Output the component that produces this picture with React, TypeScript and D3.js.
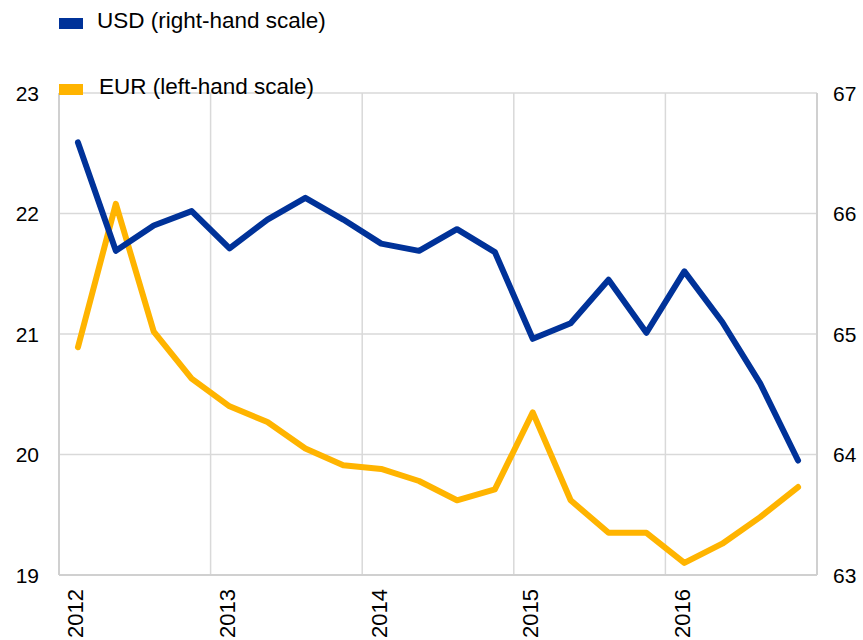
import React from "react";
import * as d3 from "d3";

const years = ["2012", "2013", "2014", "2015", "2016"];
const quarters = years.flatMap((y) => ["Q1", "Q2", "Q3", "Q4"].map((q) => `${y}${q}`));

const usdValues = [
  66.59, 65.69, 65.9, 66.02, 65.71, 65.95, 66.13, 65.95, 65.75, 65.69,
  65.87, 65.68, 64.96, 65.09, 65.45, 65.01, 65.52, 65.1, 64.59, 63.95,
];
const eurValues = [
  20.89, 22.08, 21.02, 20.63, 20.4, 20.27, 20.05, 19.91, 19.88, 19.78,
  19.62, 19.71, 20.35, 19.62, 19.35, 19.35, 19.1, 19.26, 19.48, 19.73,
];
const leftTicks = [19, 20, 21, 22, 23];
const rightTicks = [63, 64, 65, 66, 67];

const W = 863;
const H = 640;
const left = 59;
const right = 817;
const top = 93;
const bottom = 575;
const FONT = "'Liberation Sans', Arial, sans-serif";
const BLUE = "#003299";
const YELLOW = "#FFB400";
const GRID = "#d9d9d9";

export default function App() {
  const x = d3.scaleBand<string>().domain(quarters).range([left, right]).padding(0);
  const yL = d3.scaleLinear().domain([19, 23]).range([bottom, top]);
  const yR = d3.scaleLinear().domain([63, 67]).range([bottom, top]);
  const cx = (q: string) => (x(q) as number) + x.bandwidth() / 2;

  const usdLine = d3
    .line<number>()
    .x((_, i) => cx(quarters[i]))
    .y((d) => yR(d));
  const eurLine = d3
    .line<number>()
    .x((_, i) => cx(quarters[i]))
    .y((d) => yL(d));

  return (
    <svg
      width={W}
      height={H}
      style={{ position: "absolute", left: 0, top: 0, background: "#fff" }}
      fontFamily={FONT}
    >
      {leftTicks.slice(1).map((t) => (
        <line key={t} x1={left} x2={right} y1={yL(t)} y2={yL(t)} stroke={GRID} strokeWidth={1.5} />
      ))}
      {years.slice(1).map((y) => (
        <line
          key={y}
          x1={x(`${y}Q1`) as number}
          x2={x(`${y}Q1`) as number}
          y1={top}
          y2={bottom}
          stroke={GRID}
          strokeWidth={1.5}
        />
      ))}
      <line x1={left} x2={left} y1={top} y2={bottom} stroke="#d0d0d0" strokeWidth={2} />
      <line x1={right} x2={right} y1={top} y2={bottom} stroke="#d0d0d0" strokeWidth={2} />
      <line x1={left} x2={right} y1={bottom} y2={bottom} stroke="#d0d0d0" strokeWidth={2} />

      {leftTicks.map((t) => (
        <text key={t} x={39} y={yL(t)} dy="0.36em" textAnchor="end" fontSize={21} fill="#000">
          {t}
        </text>
      ))}
      {rightTicks.map((t) => (
        <text key={t} x={833} y={yR(t)} dy="0.36em" textAnchor="start" fontSize={21} fill="#000">
          {t}
        </text>
      ))}
      {years.map((y) => {
        const px = cx(`${y}Q1`) - 2.5;
        return (
          <text
            key={y}
            transform={`translate(${px},589) rotate(-90)`}
            dy="0.36em"
            textAnchor="end"
            fontSize={22}
            fill="#000"
          >
            {y}
          </text>
        );
      })}

      <path d={eurLine(eurValues) || ""} fill="none" stroke={YELLOW} strokeWidth={6} strokeLinejoin="round" strokeLinecap="round" />
      <path d={usdLine(usdValues) || ""} fill="none" stroke={BLUE} strokeWidth={6} strokeLinejoin="round" strokeLinecap="round" />

      <rect x={59} y={18} width={24} height={11} fill={BLUE} />
      <text x={97} y={28} fontSize={22.5} fill="#000">USD (right-hand scale)</text>
      <rect x={59} y={84} width={24} height={11} fill={YELLOW} />
      <text x={99} y={94} fontSize={22.5} fill="#000">EUR (left-hand scale)</text>
    </svg>
  );
}
